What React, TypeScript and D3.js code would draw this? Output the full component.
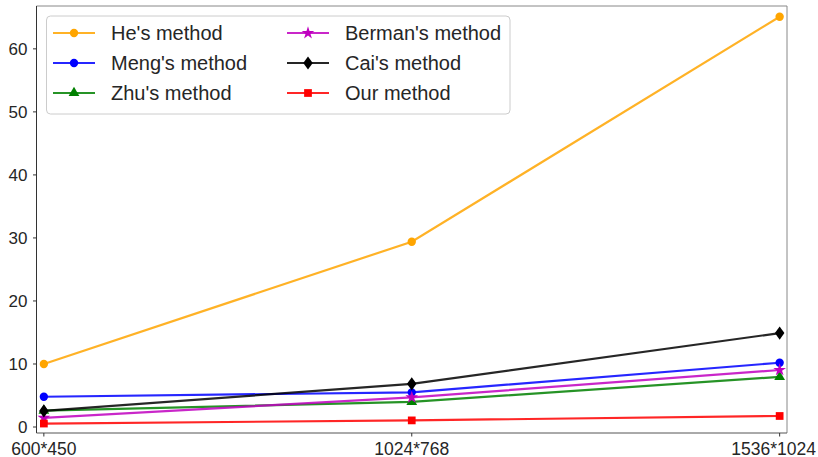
import * as d3 from 'd3';

const categories = ['600*450', '1024*768', '1536*1024'];
const yTicks = [0, 10, 20, 30, 40, 50, 60];

const heValues = [10.0, 29.4, 65.1];
const mengValues = [4.8, 5.5, 10.2];
const zhuValues = [2.6, 4.0, 7.95];
const bermanValues = [1.45, 4.7, 9.05];
const caiValues = [2.55, 6.85, 14.9];
const ourValues = [0.55, 1.05, 1.75];

const seriesNames = ["He's method", "Meng's method", "Zhu's method", "Berman's method", "Cai's method", "Our method"];
const seriesColors = ['#ffa500', '#0000ff', '#008000', '#bf00bf', '#000000', '#ff0000'];
const seriesSymbols = [d3.symbolCircle, d3.symbolCircle, d3.symbolTriangle, d3.symbolStar, d3.symbolDiamond, d3.symbolSquare];
const symbolSizes = [55, 55, 50, 50, 50, 60];
const seriesValues = [heValues, mengValues, zhuValues, bermanValues, caiValues, ourValues];

const W = 818;
const H = 457;
const left = 36.5, right = 787, top = 6, bottom = 433;
const font = '"Liberation Sans", Arial, sans-serif';
const tickFont = 17.5;

const Marker = (props: {i: number, x: number, y: number}) => {
    const sym = d3.symbol(seriesSymbols[props.i], symbolSizes[props.i]);
    // diamond in matplotlib is a rotated square, a bit wider than d3's
    const transform = props.i === 4
        ? `translate(${props.x},${props.y}) scale(1.25,1)`
        : `translate(${props.x},${props.y})`;
    return <path d={sym() ?? ''} transform={transform} fill={seriesColors[props.i]} />;
};

const App = () => {
    const x = d3.scaleLinear().domain([-0.02, 2.02]).range([left, right]);
    const y = d3.scaleLinear().domain([-0.95, 66.8]).range([bottom, top]);

    const line = d3.line<number>()
        .x((_, i) => x(i))
        .y(d => y(d));

    // legend layout
    const legendRows = 3;
    const colX = [53, 287];
    const rowY = [33, 63, 93];

    // rough text width (Arial digits 0.556em, '*' 0.389em) so the last label stays inside the page
    const labelX = (c: string, i: number) => {
        const half = c.split('').reduce((s, ch) => s + (ch === '*' ? 0.389 : 0.556), 0) * tickFont / 2;
        return Math.min(x(i), W - 2 - half);
    };

    return (
        <svg width={W} height={H} style={{position: 'absolute', left: 0, top: 0}} fontFamily={font}>
            <rect x={0} y={0} width={W} height={H} fill="white" />

            {seriesValues.map((vals, i) => (
                <g key={i}>
                    <path d={line(vals) ?? ''} fill="none" stroke={seriesColors[i]} strokeOpacity={0.85} strokeWidth={2.2} />
                    {vals.map((v, j) => <Marker key={j} i={i} x={x(j)} y={y(v)} />)}
                </g>
            ))}

            {/* spines */}
            <line x1={left} x2={right} y1={top} y2={top} stroke="#888" strokeWidth={1} />
            <line x1={right} x2={right} y1={top} y2={bottom} stroke="#888" strokeWidth={1} />
            <line x1={left} x2={left} y1={top} y2={bottom} stroke="#333" strokeWidth={1} />
            <line x1={left} x2={right} y1={bottom} y2={bottom} stroke="#555" strokeWidth={1} />

            {/* y axis */}
            {yTicks.map(t => (
                <g key={t} transform={`translate(0,${y(t)})`}>
                    <line x1={left - 3.5} x2={left} stroke="#333" />
                    <text x={left - 9} dy="0.36em" textAnchor="end" fontSize="17px" fill="#262626">{t}</text>
                </g>
            ))}

            {/* x axis */}
            {categories.map((c, i) => (
                <g key={c}>
                    <line x1={x(i)} x2={x(i)} y1={bottom} y2={bottom + 3.5} stroke="#333" />
                    <text x={labelX(c, i)} y={bottom + 21.5} textAnchor="middle" fontSize={`${tickFont}px`} fill="#262626">{c}</text>
                </g>
            ))}

            {/* legend */}
            <rect x={46.5} y={16} width={463.5} height={98} rx={4} fill="white" fillOpacity={0.8} stroke="#cccccc" />
            {seriesNames.map((name, i) => {
                const cx = colX[Math.floor(i / legendRows)];
                const cy = rowY[i % legendRows];
                return (
                    <g key={name}>
                        <line x1={cx} x2={cx + 42} y1={cy} y2={cy} stroke={seriesColors[i]} strokeOpacity={0.85} strokeWidth={2.2} />
                        <Marker i={i} x={cx + 21} y={cy} />
                        <text x={cx + 58} y={cy} dy="0.36em" fontSize="20px" fill="#262626">{name}</text>
                    </g>
                );
            })}
        </svg>
    );
};

export default App;
